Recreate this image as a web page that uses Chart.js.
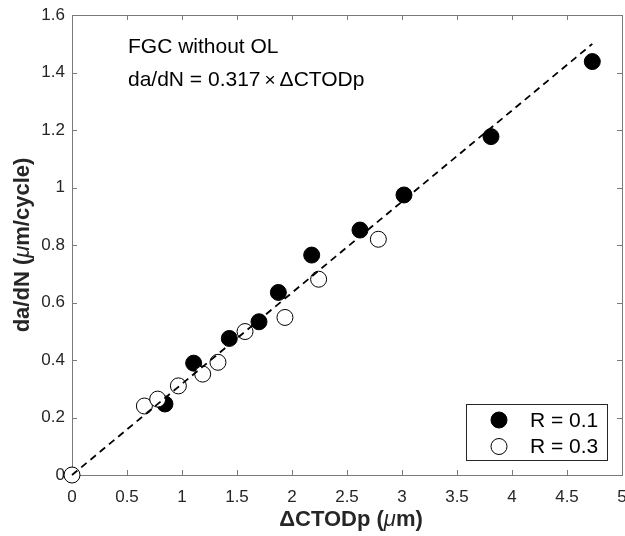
<!DOCTYPE html>
<html>
<head>
<meta charset="utf-8">
<script src="https://cdn.jsdelivr.net/npm/chart.js@4.4.1/dist/chart.umd.min.js"></script>
<style>
  html, body { margin: 0; padding: 0; background: #fff; overflow: hidden; }
  #wrap { width: 625px; height: 536px; }
  canvas { display: block; }
</style>
</head>
<body>
<div id="wrap"><canvas id="chart" width="625" height="536"></canvas></div>
<script>
// R = 0.1 (filled markers)
const r01X = [0.845, 1.106, 1.430, 1.700, 1.876, 2.179, 2.618, 3.018, 3.809, 4.730];
const r01Y = [0.247, 0.389, 0.475, 0.533, 0.635, 0.765, 0.852, 0.974, 1.177, 1.438];
// R = 0.3 (open markers)
const r03X = [0, 0.658, 0.779, 0.967, 1.188, 1.327, 1.573, 1.936, 2.242, 2.785];
const r03Y = [0, 0.240, 0.264, 0.310, 0.351, 0.392, 0.499, 0.548, 0.681, 0.820];
// fit line da/dN = 0.317 x dCTODp
const fitSlope = 0.317;
const fitX = [0, 4.73];
const xTicks = [0, 0.5, 1, 1.5, 2, 2.5, 3, 3.5, 4, 4.5, 5];
const yTicks = [0, 0.2, 0.4, 0.6, 0.8, 1, 1.2, 1.4, 1.6];

const FONT = '"Liberation Sans", Arial, sans-serif';
const TEXT = '#262626';
const AXIS = '#7a7a7a';

function pts(xs, ys) {
  return xs.map((x, i) => ({ x: x, y: ys[i] }));
}

// draw a line of text built from pieces with different fonts, starting at x
// (align 'center' centres the whole run on x)
function richText(ctx, parts, x, y, align) {
  let total = 0;
  parts.forEach(p => { ctx.font = p.font; total += ctx.measureText(p.t).width + (p.gap || 0); });
  if (align === 'center') x -= total / 2;
  ctx.textAlign = 'left';
  parts.forEach(p => {
    ctx.font = p.font;
    ctx.fillText(p.t, x, y);
    x += ctx.measureText(p.t).width + (p.gap || 0);
  });
}

function noPad(s) {
  s.paddingLeft = 0; s.paddingRight = 0; s.paddingTop = 0; s.paddingBottom = 0;
}

const framePlugin = {
  id: 'frame',
  beforeDatasetsDraw(chart) {
    const ctx = chart.ctx;
    const a = chart.chartArea;
    const xs = chart.scales.x, ys = chart.scales.y;
    ctx.save();
    ctx.strokeStyle = AXIS;
    ctx.lineWidth = 1;
    ctx.strokeRect(Math.round(a.left) + 0.5, Math.round(a.top) + 0.5,
      Math.round(a.right - a.left), Math.round(a.bottom - a.top));
    const tl = 5;
    ctx.beginPath();
    xTicks.forEach(v => {
      const px = Math.round(xs.getPixelForValue(v)) + 0.5;
      ctx.moveTo(px, a.bottom); ctx.lineTo(px, a.bottom - tl);
      ctx.moveTo(px, a.top); ctx.lineTo(px, a.top + tl);
    });
    yTicks.forEach(v => {
      const py = Math.round(ys.getPixelForValue(v)) + 0.5;
      ctx.moveTo(a.left, py); ctx.lineTo(a.left + tl, py);
      ctx.moveTo(a.right, py); ctx.lineTo(a.right - tl, py);
    });
    ctx.stroke();
    ctx.restore();
  },
  afterDraw(chart) {
    const ctx = chart.ctx;
    const a = chart.chartArea;
    ctx.save();
    ctx.fillStyle = TEXT;
    ctx.textBaseline = 'middle';

    // axis titles
    richText(ctx, [
      { t: '\u0394CTODp (', font: 'bold 22px ' + FONT },
      { t: '\u03bc', font: 'italic 22px ' + FONT },
      { t: 'm)', font: 'bold 22px ' + FONT }
    ], (a.left + a.right) / 2 + 4, 520, 'center');

    ctx.save();
    ctx.translate(23, (a.top + a.bottom) / 2);
    ctx.rotate(-Math.PI / 2);
    richText(ctx, [
      { t: 'da/dN (', font: 'bold 22px ' + FONT },
      { t: '\u03bc', font: 'italic 22px ' + FONT },
      { t: 'm/cycle)', font: 'bold 22px ' + FONT }
    ], 0, 0, 'center');
    ctx.restore();

    // annotations
    ctx.fillStyle = '#000';
    ctx.textBaseline = 'alphabetic';
    ctx.font = '21px ' + FONT;
    ctx.textAlign = 'left';
    ctx.fillText('FGC without OL', 128, 53);
    richText(ctx, [
      { t: 'da/dN = 0.317', font: '21px ' + FONT, gap: 4 },
      { t: '\u00d7', font: '19px ' + FONT, gap: 4 },
      { t: '\u0394CTODp', font: '21px ' + FONT }
    ], 128, 86, 'left');

    // legend
    const lx = 466, ly = 404, lw = 141, lh = 56;
    ctx.fillStyle = '#fff';
    ctx.fillRect(lx, ly, lw, lh);
    ctx.strokeStyle = '#262626';
    ctx.lineWidth = 1;
    ctx.strokeRect(lx + 0.5, ly + 0.5, lw, lh);
    const rows = [
      { label: 'R = 0.1', fill: '#000' },
      { label: 'R = 0.3', fill: '#fff' }
    ];
    rows.forEach((r, i) => {
      const cy = 420 + i * 26.5;
      ctx.beginPath();
      ctx.arc(499, cy, 8, 0, Math.PI * 2);
      ctx.fillStyle = r.fill;
      ctx.fill();
      ctx.strokeStyle = '#000';
      ctx.stroke();
      ctx.fillStyle = '#000';
      ctx.font = '21px ' + FONT;
      ctx.textAlign = 'left';
      ctx.textBaseline = 'middle';
      ctx.fillText(r.label, 530, cy + 1);
    });
    ctx.restore();
  }
};

new Chart(document.getElementById('chart'), {
  type: 'scatter',
  data: {
    datasets: [
      {
        label: 'fit',
        type: 'line',
        data: fitX.map(x => ({ x: x, y: fitSlope * x })),
        borderColor: '#000',
        borderWidth: 1.8,
        borderDash: [7, 5],
        pointRadius: 0,
        fill: false,
        clip: false
      },
      {
        label: 'R = 0.3',
        data: pts(r03X, r03Y),
        backgroundColor: '#fff',
        borderColor: '#000',
        borderWidth: 1,
        pointRadius: 8,
        pointHoverRadius: 8,
        clip: false
      },
      {
        label: 'R = 0.1',
        data: pts(r01X, r01Y),
        backgroundColor: '#000',
        borderColor: '#000',
        borderWidth: 1,
        pointRadius: 8,
        pointHoverRadius: 8,
        clip: false
      }
    ]
  },
  options: {
    responsive: false,
    animation: false,
    layout: { autoPadding: false, padding: { top: 15, right: 3, left: 0, bottom: 0 } },
    plugins: {
      legend: { display: false },
      tooltip: { enabled: false }
    },
    scales: {
      x: {
        type: 'linear',
        min: 0,
        max: 5,
        grid: { display: false, drawTicks: false },
        border: { display: false },
        afterBuildTicks: s => { s.ticks = xTicks.map(v => ({ value: v })); },
        afterFit: s => { s.height = 61; noPad(s); },
        ticks: {
          autoSkip: false,
          maxRotation: 0,
          padding: 12,
          color: TEXT,
          font: { family: FONT, size: 17 },
          callback: v => String(v)
        }
      },
      y: {
        type: 'linear',
        min: 0,
        max: 1.6,
        grid: { display: false, drawTicks: false },
        border: { display: false },
        afterBuildTicks: s => { s.ticks = yTicks.map(v => ({ value: v })); },
        afterFit: s => { s.width = 72; noPad(s); },
        ticks: {
          autoSkip: false,
          padding: 7,
          color: TEXT,
          font: { family: FONT, size: 17 },
          callback: v => String(v)
        }
      }
    }
  },
  plugins: [framePlugin]
});
</script>
</body>
</html>
